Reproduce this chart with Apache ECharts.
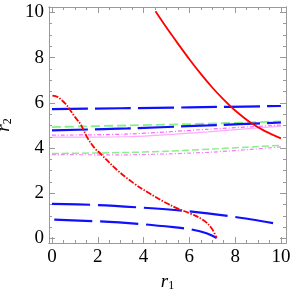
<!DOCTYPE html>
<html><head><meta charset="utf-8">
<script src="https://cdn.jsdelivr.net/npm/echarts@6/dist/echarts.min.js"></script>
<style>html,body{margin:0;padding:0;background:#fff}#c{width:291px;height:295px}</style>
</head><body><div id="c"></div>
<script>
// tick values
const majorTicks = [0, 2, 4, 6, 8, 10];
const minorTicks = [0,0.5,1,1.5,2,2.5,3,3.5,4,4.5,5,5.5,6,6.5,7,7.5,8,8.5,9,9.5,10];
// curves [r1, r2]
const redSolid = [[4.52,10.05],[5.0,9.33],[5.5,8.62],[6.0,7.93],[6.5,7.28],[7.0,6.68],[7.5,6.14],[8.0,5.66],[8.65,5.14],[9.3,4.75],[10.0,4.43]];
const redDashDot = [[0.02,6.32],[0.25,6.26],[0.41,6.13],[0.6,5.95],[0.77,5.72],[1.0,5.38],[1.28,5.0],[1.55,4.45],[1.86,4.0],[2.1,3.77],[2.82,3.05],[3.55,2.46],[4.2,2.03],[4.9,1.62],[5.5,1.32],[6.03,1.11],[6.6,0.82],[6.97,0.45],[7.19,0.02]];
const blueTop = [[0,5.72],[3,5.76],[6,5.8],[10,5.86]];
const blueMid = [[0,4.78],[3.3,4.87],[6.8,5.0],[10,5.13]];
const blueLow1 = [[0,1.53],[2,1.48],[4,1.36],[6,1.2],[8,0.95],[10,0.62]];
const blueLow2 = [[0.1,0.83],[2,0.76],[3.84,0.64],[5.3,0.5],[6.03,0.41],[6.75,0.23],[7.19,0.02]];
const greenUp = [[0,4.93],[3.3,5.0],[6.8,5.08],[10,5.18]];
const magentaUp = [[0,4.57],[3.3,4.62],[6.8,4.83],[10,5.02]];
const pinkUp = [[0,4.48],[3.3,4.5],[6.8,4.72],[10,4.97]];
const greenLow = [[0,3.76],[3,3.8],[5,3.86],[7,3.96],[8.5,4.04],[10,4.12]];
const magentaLow = [[0,3.71],[3,3.7],[5,3.74],[7,3.82],[8.5,3.93],[10,4.05]];

const XMIN=-0.13, XMAX=10.22, YMIN=-0.2, YMAX=10.24;
const serif = 'Liberation Serif';
const frameCol = '#9a9a9a';

function ax(pos, values, len, labels, min, max){
  return {type:'value', position:pos, min:min, max:max,
    axisLine:{show:true, onZero:false, lineStyle:{color:frameCol, width:1}},
    splitLine:{show:false},
    axisTick:{show:true, inside:true, length:len, customValues:values, lineStyle:{color:frameCol}},
    axisLabel:{show:labels, customValues:values, fontFamily:serif, fontSize:19, color:'#000', margin:5,
      formatter: v => String(v)}
  };
}
const xAxes = [ax('bottom', majorTicks, 6, true, XMIN, XMAX), ax('bottom', minorTicks, 3, false, XMIN, XMAX), ax('top', majorTicks, 6, false, XMIN, XMAX), ax('top', minorTicks, 3, false, XMIN, XMAX)];
const yAxes = [ax('left', majorTicks, 6, true, YMIN, YMAX), ax('left', minorTicks, 3, false, YMIN, YMAX), ax('right', majorTicks, 6, false, YMIN, YMAX), ax('right', minorTicks, 3, false, YMIN, YMAX)];
const rich = {i:{fontFamily:serif, fontStyle:'italic', fontSize:19, color:'#000'}, s:{fontFamily:serif, fontSize:12, color:'#000', padding:[9,0,0,0]}};
Object.assign(xAxes[0], {name:'{i|r}{s|1}', nameLocation:'middle', nameGap:28, nameTextStyle:{rich}});
Object.assign(yAxes[0], {name:'{i|r}{s|2}', nameLocation:'middle', nameGap:15, nameTextStyle:{rich}});

function ln(data, color, width, dash, smooth){
  return {type:'line', data, showSymbol:false, smooth: smooth===undefined?0.3:smooth, clip:true,
    lineStyle:{color, width, type: dash || 'solid', cap:'butt'}, silent:true, animation:false};
}
const chart = echarts.init(document.getElementById('c'), null, {renderer:'canvas'});
chart.setOption({
  animation:false,
  grid:{left:49, right:5, top:7, bottom:52, containLabel:false, outerBoundsMode:'none'},
  xAxis: xAxes, yAxis: yAxes,
  series:[
    ln(magentaLow, '#ff77ff', 1.2, [4,2,1,2]),
    ln(greenLow, '#88f088', 1.5, [7,3]),
    ln(pinkUp, '#ffaaff', 1.2),
    ln(magentaUp, '#ff66ff', 1.2, [4,2,1,2]),
    ln(greenUp, '#88f088', 1.8, [9,4]),
    ln(blueTop, '#1010ff', 2.2, [36,7]),
    ln(blueMid, '#1010ff', 2.2, [36,7]),
    ln(blueLow1, '#1010ff', 2.2, [38,8]),
    ln(blueLow2, '#1010ff', 2.2, [38,8]),
    ln(redSolid, '#ff0000', 1.8, null, 0.3),
    ln(redDashDot, '#ff0000', 1.8, [6,1.5,1.5,1.5], 0.4)
  ]
});
</script></body></html>
